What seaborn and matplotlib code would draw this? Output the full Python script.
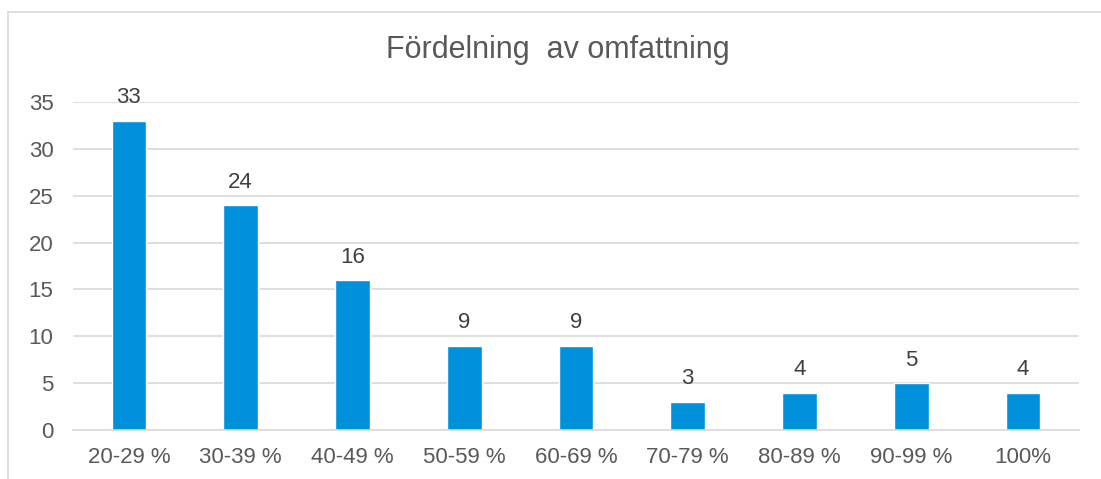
import matplotlib
matplotlib.use("Agg")
import matplotlib.pyplot as plt
import seaborn as sns
import pandas as pd
from matplotlib.lines import Line2D

# data
categories = ["20-29 %", "30-39 %", "40-49 %", "50-59 %", "60-69 %",
              "70-79 %", "80-89 %", "90-99 %", "100%"]
counts = [33, 24, 16, 9, 9, 3, 4, 5, 4]

df = pd.DataFrame({"omfattning": categories, "antal": counts})

sns.set_style("white")
plt.rcParams['font.family'] = ['Liberation Sans', 'DejaVu Sans']
text_grey = "#595959"
bar_blue = "#0091DA"

fig = plt.figure(figsize=(11.01, 4.79), dpi=100)
ax = fig.add_axes([0.0663, 0.1023, 0.9137, 0.6848])

sns.barplot(data=df, x="omfattning", y="antal", color=bar_blue,
            width=0.31, saturation=1, ax=ax)

ax.set_ylim(0, 35)
ax.set_yticks(range(0, 36, 5))
ax.yaxis.grid(True, color="#d9d9d9", linewidth=1.2)
ax.set_axisbelow(True)
for s in ["top", "right", "left"]:
    ax.spines[s].set_visible(False)
ax.spines["bottom"].set_color("#d9d9d9")
ax.spines["bottom"].set_linewidth(1.2)
ax.tick_params(axis="both", length=0, labelsize=16, colors=text_grey)
ax.tick_params(axis="x", pad=12)
ax.tick_params(axis="y", pad=14)
ax.set_xlabel("")
ax.set_ylabel("")

ax.bar_label(ax.containers[0], labels=[str(c) for c in counts],
             fontsize=16, color="#404040", padding=9)

fig.text(0.507, 0.896, "Fördelning  av omfattning", ha="center", va="center",
         fontsize=22, color=text_grey)

# chart frame (left and top edges visible in the reference)
fig.add_artist(Line2D([8 / 1101, 8 / 1101], [0, 1 - 12 / 479],
                      transform=fig.transFigure, color="#d9d9d9", lw=1.2))
fig.add_artist(Line2D([8 / 1101, 1], [1 - 12 / 479, 1 - 12 / 479],
                      transform=fig.transFigure, color="#d9d9d9", lw=1.2))

fig.savefig("out.png", dpi=100)
